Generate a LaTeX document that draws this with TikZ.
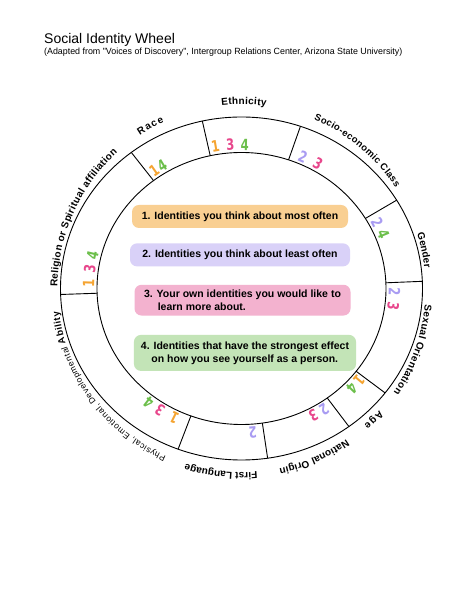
\documentclass[tikz,border=0pt]{standalone}
\usepackage{fontspec}
\setmainfont{Liberation Sans}
\newfontfamily\narrowfont[FakeStretch=0.985]{Liberation Sans}
\newfontfamily\markfont[FakeStretch=0.75]{DejaVu Sans}
\usetikzlibrary{calc,positioning,decorations.text}
\definecolor{MostOrange}{HTML}{F9CF92}
\definecolor{LeastLilac}{HTML}{D9D1F8}
\definecolor{LearnPink}{HTML}{F3B2CF}
\definecolor{EffectGreen}{HTML}{C3E4B7}
\definecolor{MarkOrange}{HTML}{F5A431}
\definecolor{MarkPink}{HTML}{E8478C}
\definecolor{MarkGreen}{HTML}{6CBF4B}
\definecolor{MarkLilac}{HTML}{A99CF2}

\tikzset{
  ring/.style={line width=0.9pt},
  idbox/.style={fill=#1,rounded corners=7pt,inner xsep=7pt,inner ysep=5pt,minimum width=216pt,
    minimum height=23pt,align=left,font=\fontsize{10.5}{13}\selectfont\bfseries},
  idmark/.style={text=#1,font=\markfont\fontsize{15.5}{15.5}\selectfont\bfseries,inner sep=0pt},
}
% start angle, end angle, font, text
\newcommand\wheellabel[4]{%
  \path[decorate,decoration={text along path,text align=fit to path,text={|#3|#4}}]
    ($(c)+(#1:184)$) arc[start angle=#1,end angle=#2,radius=184];}

\begin{document}
\begin{tikzpicture}[x=1pt,y=1pt]
  \useasboundingbox (0,0) rectangle (474,613);
  \fill[white] (0,0) rectangle (474,613);
  \coordinate (c) at (241.5,324.5);

  % heading
  \node[anchor=base west,inner sep=0pt] (title) at (44,569)
    {\fontsize{14}{14}\selectfont Social Identity Wheel};
  \node[anchor=base west,inner sep=0pt] (source) at (44,558)
    {\narrowfont\fontsize{9}{9}\selectfont (Adapted from "Voices of Discovery", Intergroup Relations Center, Arizona State University)};

  % wheel
  \draw[ring] (c) ellipse[x radius=181,y radius=171.5];
  \draw[ring] (c) ellipse[x radius=144.5,y radius=136];
  \foreach \a in {71,102.5,127.5,182,249.5,278.3,306.4,322.5,2.4,31}
    \draw[ring] ($(c)+(\a:144.5 and 136)$) -- ($(c)+(\a:181 and 171.5)$);

  % labels round the wheel
  \wheellabel{96.2}{82.3}{\fontsize{10}{10}\selectfont\bfseries}{Ethnicity}
  \wheellabel{123.5}{114.9}{\fontsize{10}{10}\selectfont\bfseries}{Race}
  \wheellabel{179.5}{132.4}{\fontsize{10}{10}\selectfont\bfseries}{Religion or Spiritual affiliation}
  \wheellabel{245.8}{187.3}{\fontsize{8.5}{8.5}\selectfont}{Physical, Emotional, Developmental |\fontsize{9.5}{9.5}\selectfont\bfseries|Ability}
  \wheellabel{-85.1}{-107.7}{\fontsize{10}{10}\selectfont\bfseries}{First Language}
  \wheellabel{-55.3}{-78.2}{\fontsize{10}{10}\selectfont\bfseries}{National Origin}
  \wheellabel{-41.5}{-48.2}{\fontsize{10}{10}\selectfont\bfseries}{Age}
  \wheellabel{-5}{-34.3}{\fontsize{10}{10}\selectfont\bfseries}{Sexual Orientation}
  \wheellabel{17.4}{6.3}{\fontsize{10}{10}\selectfont\bfseries}{Gender}
  \wheellabel{66.8}{33.1}{\fontsize{9.5}{9.5}\selectfont\bfseries}{Socio-economic Class}

  % marks in the ring
  \foreach \a/\col/\d [count=\k] in {124.8/MarkOrange/1,121.2/MarkGreen/4,
      99.8/MarkOrange/1,94.2/MarkPink/3,88.8/MarkGreen/4,
      66.3/MarkLilac/2,60/MarkPink/3,
      27.5/MarkLilac/2,22/MarkGreen/4,
      -1.3/MarkLilac/2,-7.1/MarkPink/3,
      -39.8/MarkOrange/1,-43.8/MarkGreen/4,
      -57.3/MarkLilac/2,-62/MarkPink/3,
      -85.8/MarkLilac/2,
      243.9/MarkOrange/1,237.8/MarkPink/3,232.5/MarkGreen/4,
      178/MarkOrange/1,172.2/MarkPink/3,166.6/MarkGreen/4}
    \node[idmark=\col,rotate=\a-90] (mark\k) at ($(c)+(\a:153 and 144)$) {\d};

  % the four questions
  \node[idbox=MostOrange,align=center] (most) at (240,396.5)
    {1. Identities you think about most often};
  \node[idbox=LeastLilac,align=center,minimum width=220pt,below=15pt of most] (least)
    {2. Identities you think about least often};
  \node[idbox=LearnPink,below=18pt of least,xshift=2.5pt] (learn)
    {3. Your own identities you would like to\\\hspace*{1.3em}learn more about.};
  \node[idbox=EffectGreen,minimum height=36pt,below=19pt of learn,xshift=2.5pt] (effect)
    {4. Identities that have the strongest effect\\\hspace*{1em}on how you see yourself as a person.};
\end{tikzpicture}
\end{document}
